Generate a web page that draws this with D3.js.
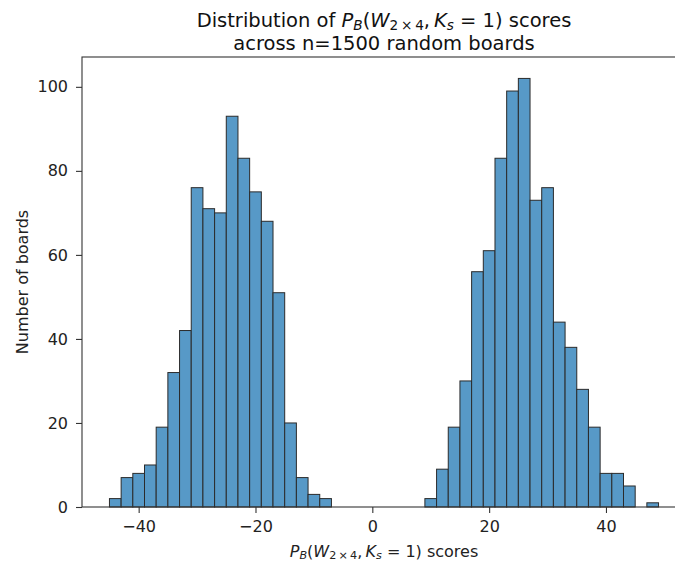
<!DOCTYPE html>
<html>
<head>
<meta charset="utf-8">
<script src="https://cdn.jsdelivr.net/npm/d3@7"></script>
<style>
	body { margin: 0; background: #fff; }
	svg { display: block; font-family: "DejaVu Sans", sans-serif; }
</style>
</head>
<body>
<script>
// histogram bins: lower/upper edges and counts
const binEdges = [-45, -43, -41, -39, -37, -35, -33, -31, -29, -27, -25, -23, -21, -19, -17, -15, -13, -11, -9, -7,
	-5, -3, -1, 1, 3, 5, 7, 9, 11, 13, 15, 17, 19, 21, 23, 25, 27, 29, 31, 33, 35, 37, 39, 41, 43, 45, 47, 49];
const counts = [2, 7, 8, 10, 19, 32, 42, 76, 71, 70, 93, 83, 75, 68, 51, 20, 7, 3, 2,
	0, 0, 0, 0, 0, 0, 0, 0,
	2, 9, 19, 30, 56, 61, 83, 99, 102, 73, 76, 44, 38, 28, 19, 8, 8, 5,
	0, 1];
const xTicks = [-40, -20, 0, 20, 40];
const yTicks = [0, 20, 40, 60, 80, 100];

const width = 675;
const height = 567;
const margin = { left: 82, right: -11, top: 57, bottom: 60 };
const fontSize = 16;
const titleSize = 19.5;

const bins = counts.map((c, i) => ({ x0: binEdges[i], x1: binEdges[i + 1], count: c }));

const svg = d3.select("body")
	.append("svg")
	.attr("width", width)
	.attr("height", height);

// matplotlib adds 5% padding around the data
const span = binEdges[binEdges.length - 1] - binEdges[0];
const xScale = d3.scaleLinear()
	.domain([binEdges[0] - 0.05 * span, binEdges[binEdges.length - 1] + 0.05 * span])
	.range([margin.left, width - margin.right]);

const yScale = d3.scaleLinear()
	.domain([0, d3.max(counts) * 1.05])
	.range([height - margin.bottom, margin.top]);

// bars
svg.append("g")
	.selectAll("rect")
	.data(bins.filter((d) => d.count > 0))
	.join("rect")
	.attr("x", (d) => xScale(d.x0))
	.attr("y", (d) => yScale(d.count))
	.attr("width", (d) => xScale(d.x1) - xScale(d.x0))
	.attr("height", (d) => yScale(0) - yScale(d.count))
	.attr("fill", "#5799c7")
	.attr("stroke", "#2b2b2b")
	.attr("stroke-width", 1);

// axes
const xAxis = svg.append("g")
	.attr("transform", `translate(0 ${height - margin.bottom})`)
	.call(d3.axisBottom(xScale).tickValues(xTicks).tickSize(6).tickPadding(8)
		.tickFormat((d) => (d < 0 ? "\u2212" + Math.abs(d) : d)));

const yAxis = svg.append("g")
	.attr("transform", `translate(${margin.left} 0)`)
	.call(d3.axisLeft(yScale).tickValues(yTicks).tickSize(6).tickPadding(8));

[xAxis, yAxis].forEach((a) => {
	a.select(".domain").remove();
	a.selectAll("line").attr("stroke", "#333").attr("stroke-width", 1.1);
	a.selectAll("text").attr("font-size", fontSize).attr("fill", "#222")
		.attr("font-family", "DejaVu Sans");
});

// frame (all four spines)
svg.append("rect")
	.attr("x", xScale.range()[0])
	.attr("y", yScale.range()[1])
	.attr("width", xScale.range()[1] - xScale.range()[0])
	.attr("height", yScale.range()[0] - yScale.range()[1])
	.attr("fill", "none")
	.attr("stroke", "#333")
	.attr("stroke-width", 1.1);

// writes a mathtext-like label P_B(W_{2x4}, K_s = 1)
const addMath = (text) => {
	const sub = (s, italic) => {
		text.append("tspan").attr("baseline-shift", "-22%").attr("font-size", "70%")
			.attr("font-style", italic ? "italic" : "normal").text(s);
	};
	const put = (s, italic) => {
		text.append("tspan").attr("font-style", italic ? "italic" : "normal").text(s);
	};
	put("P", true);
	sub("B", true);
	put("(", false);
	put("W", true);
	sub("2\u2009\u00d7\u20094", false);
	put(",\u2009", false);
	put("K", true);
	sub("s", true);
	put(" = 1)", false);
};

const cx = (xScale.range()[0] + xScale.range()[1]) / 2;

// title
const t1 = svg.append("text")
	.attr("x", cx)
	.attr("y", 27)
	.attr("text-anchor", "middle")
	.attr("font-size", titleSize)
	.attr("fill", "#111");
t1.append("tspan").text("Distribution of ");
addMath(t1);
t1.append("tspan").text(" scores");

svg.append("text")
	.attr("x", cx)
	.attr("y", 50)
	.attr("text-anchor", "middle")
	.attr("font-size", titleSize)
	.attr("fill", "#111")
	.text("across n=1500 random boards");

// x label
const xl = svg.append("text")
	.attr("x", cx)
	.attr("y", 557)
	.attr("text-anchor", "middle")
	.attr("font-size", fontSize)
	.attr("fill", "#222");
addMath(xl);
xl.append("tspan").text(" scores");

// y label
svg.append("text")
	.attr("transform", `translate(28 ${(yScale.range()[0] + yScale.range()[1]) / 2}) rotate(-90)`)
	.attr("text-anchor", "middle")
	.attr("font-size", fontSize)
	.attr("fill", "#222")
	.text("Number of boards");
</script>
</body>
</html>
